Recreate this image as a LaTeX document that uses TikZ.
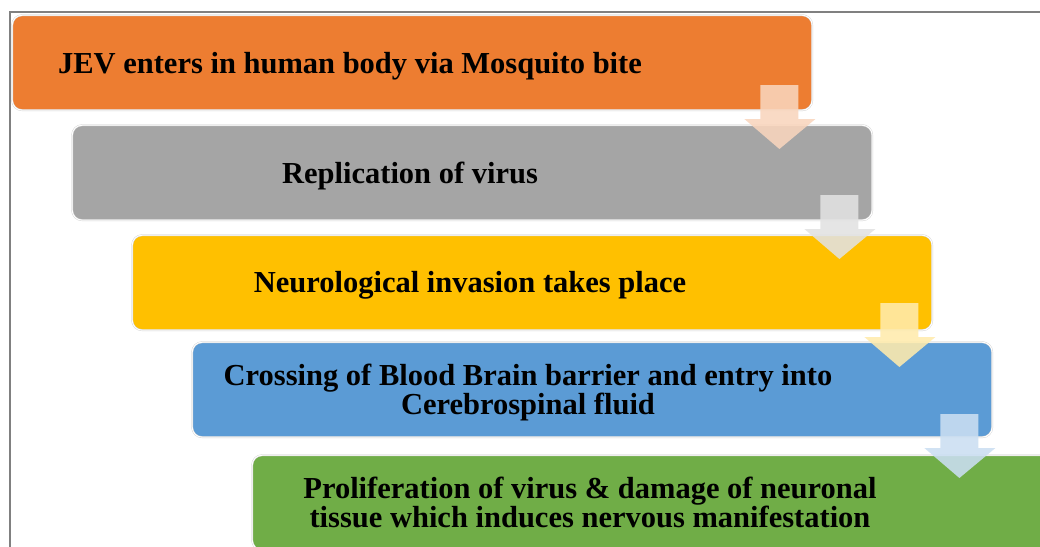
\documentclass[tikz,border=0pt]{standalone}
\usepackage{fontspec}
\setmainfont{Liberation Serif}
\usetikzlibrary{calc}
\definecolor{cOrange}{HTML}{ED7D31}
\definecolor{cGray}{HTML}{A5A5A5}
\definecolor{cYellow}{HTML}{FFC000}
\definecolor{cBlue}{HTML}{5B9BD5}
\definecolor{cGreen}{HTML}{70AD47}
\definecolor{frameGray}{HTML}{808080}
\tikzset{
  stepbox/.style={rectangle, rounded corners=10pt, minimum width=800pt, minimum height=95pt,
    inner sep=0pt, anchor=north west, draw=black!18, double=white, double distance=1pt},
  steptext/.style={align=center, font=\bfseries\fontsize{30.5}{29}\selectfont, inner sep=0pt, text=black},
  blockarrow/.style={opacity=0.88, draw=none},
}
\begin{document}
\begin{tikzpicture}[x=1pt,y=-1pt]
\useasboundingbox (0,0) rectangle (1040,546);
\clip (0,0) rectangle (1040,546);
\fill[white] (0,0) rectangle (1040,546);
\draw[frameGray, line width=2.5pt] (10,12) rectangle (1080,600);
% boxes
\node[stepbox, fill=cOrange] (b1) at (12,15) {};
\node[stepbox, fill=cGray]   (b2) at (72,125) {};
\node[stepbox, fill=cYellow] (b3) at (132,235) {};
\node[stepbox, fill=cBlue]   (b4) at (192,342) {};
\node[stepbox, fill=cGreen]  (b5) at (252,455) {};
% texts
\node[steptext] (t1) at ($(b1.west)+(338,4)$) {JEV enters in human body via Mosquito bite};
\node[steptext] (t2) at ($(b2.west)+(338,3)$) {Replication of virus};
\node[steptext] (t3) at ($(b3.west)+(338,3)$) {Neurological invasion takes place};
\node[steptext] (t4) at ($(b4.west)+(336,3)$) {Crossing of Blood Brain barrier and entry into\\Cerebrospinal fluid};
\node[steptext] (t5) at ($(b5.west)+(338,0)$) {Proliferation of virus \& damage of neuronal\\tissue which induces nervous manifestation};
% arrows
\foreach \a/\c/\t in {b1/cOrange/85, b2/cGray/195, b3/cYellow/303, b4/cBlue/414}{
  \coordinate (top) at ($(\a.south east)+(-33,0)$);
  \fill[blockarrow, fill=\c!32!white]
    ($(top|-0,\t)+(-19,0)$) -- ($(top|-0,\t)+(19,0)$) -- ($(top|-0,\t)+(19,34)$) --
    ($(top|-0,\t)+(36,34)$) -- ($(top|-0,\t)+(0,64)$) -- ($(top|-0,\t)+(-35,34)$) --
    ($(top|-0,\t)+(-19,34)$) -- cycle;
}
\end{tikzpicture}
\end{document}
